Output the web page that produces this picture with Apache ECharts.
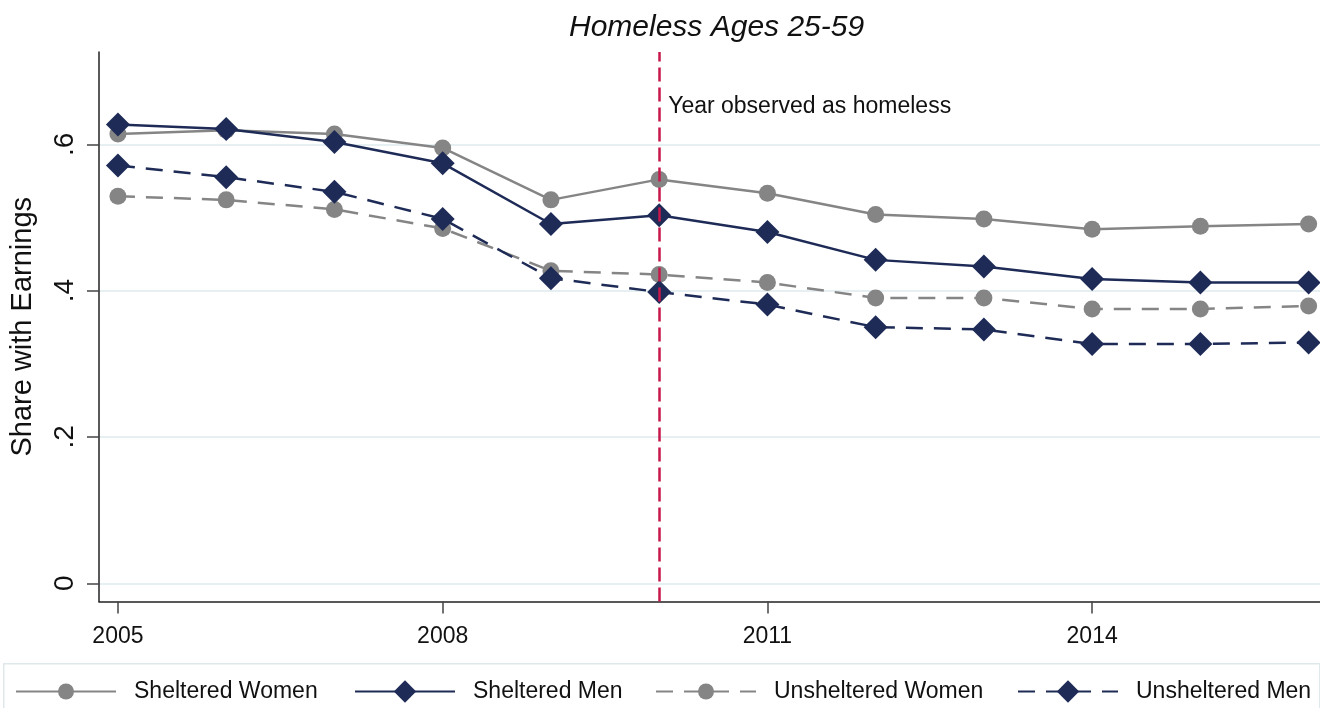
<!DOCTYPE html>
<html>
<head>
<meta charset="utf-8">
<script src="https://cdn.jsdelivr.net/npm/echarts@6/dist/echarts.min.js"></script>
<style>
html,body{margin:0;padding:0;background:#fff;}
#chart{width:1320px;height:708px;}
</style>
</head>
<body>
<div id="chart"></div>
<script>
var years = [2005, 2006, 2007, 2008, 2009, 2010, 2011, 2012, 2013, 2014, 2015, 2016];
var shelteredWomen   = [0.614, 0.619, 0.614, 0.595, 0.524, 0.552, 0.533, 0.504, 0.498, 0.484, 0.488, 0.491];
var shelteredMen     = [0.627, 0.621, 0.603, 0.574, 0.491, 0.503, 0.480, 0.442, 0.433, 0.416, 0.411, 0.411];
var unshelteredWomen = [0.529, 0.524, 0.511, 0.485, 0.427, 0.422, 0.411, 0.390, 0.390, 0.375, 0.375, 0.379];
var unshelteredMen   = [0.571, 0.555, 0.535, 0.498, 0.417, 0.398, 0.381, 0.350, 0.347, 0.327, 0.327, 0.329];
var xTicks = [2005, 2008, 2011, 2014];
var yTicks = [0, 0.2, 0.4, 0.6];
var yTickLabels = {"0": "0", "0.2": ".2", "0.4": ".4", "0.6": ".6"};
var eventYear = 2010;
var eventLabel = "Year observed as homeless";
var titleText = "Homeless Ages 25-59";
var yTitle = "Share with Earnings";
var seriesNames = ["Sheltered Women", "Sheltered Men", "Unsheltered Women", "Unsheltered Men"];

function pairs(vals){ return years.map(function(y,i){ return [y, vals[i]]; }); }

var GRAY = '#858585', NAVY = '#1e2b57', RED = '#c8174a';
var FONT = '"Liberation Sans", Arial, sans-serif';

function mk(name, vals, color, symbol, size, dashed){
  return {
    name: name, type: 'line', data: pairs(vals),
    symbol: symbol, symbolSize: size, showSymbol: true,
    itemStyle: {color: color, opacity: 1},
    lineStyle: {color: color, width: 2.5, type: dashed ? [17, 11] : 'solid'},
    emphasis: {disabled: true}, animation: false, z: 3
  };
}

var series = [
  mk(seriesNames[0], shelteredWomen, GRAY, 'circle', 17, false),
  mk(seriesNames[1], shelteredMen, NAVY, 'diamond', 24, false),
  mk(seriesNames[2], unshelteredWomen, GRAY, 'circle', 17, true),
  mk(seriesNames[3], unshelteredMen, NAVY, 'diamond', 24, true)
];
series.push({
  type: 'line', data: [], silent: true, animation: false, z: 2,
  markLine: {
    silent: true, symbol: 'none', animation: false,
    lineStyle: {color: RED, width: 2.5, type: [14, 6]},
    label: {show: false},
    data: [{xAxis: eventYear}]
  },
  markPoint: {
    silent: true, symbol: 'circle', symbolSize: 0, animation: false,
    label: {show: true, position: 'right', distance: 9, formatter: eventLabel,
      color: '#111', fontSize: 23, fontFamily: FONT},
    data: [{coord: [eventYear, 0.652]}]
  }
});

function legendFor(idx, left, h){
  return {
    data: [seriesNames[idx]], left: left, top: 675,
    itemWidth: 100, itemHeight: h, selectedMode: false,
    textStyle: {fontFamily: FONT, fontSize: 23, color: '#111', padding: [0, 0, 0, 13]}
  };
}

var chart = echarts.init(document.getElementById('chart'), null, {renderer: 'canvas'});
chart.setOption({
  animation: false,
  backgroundColor: '#fff',
  title: {text: titleText, left: 564, top: 8,
    textStyle: {fontFamily: FONT, fontSize: 30, fontStyle: 'italic', fontWeight: 'normal', color: '#111'}},
  grid: {left: 98, right: 0, top: 52, bottom: 106.5, containLabel: false},
  xAxis: {
    type: 'value', min: 2004.825, max: 2016.105,
    axisLine: {show: true, onZero: false, lineStyle: {color: '#222', width: 1.5}},
    axisTick: {show: true, length: 12, customValues: xTicks, lineStyle: {color: '#444', width: 1.5}},
    axisLabel: {show: true, customValues: xTicks, margin: 24, fontSize: 23, color: '#111', fontFamily: FONT,
      formatter: function(v){ return String(v); }},
    splitLine: {show: false}
  },
  yAxis: {
    type: 'value', min: -0.0249, max: 0.7261,
    name: yTitle, nameLocation: 'middle', nameGap: 62, nameRotate: 90,
    nameTextStyle: {fontFamily: FONT, fontSize: 29, color: '#111'},
    axisLine: {show: true, onZero: false, lineStyle: {color: '#222', width: 1.5}},
    axisTick: {show: true, length: 12, customValues: yTicks, lineStyle: {color: '#444', width: 1.5}},
    axisLabel: {show: true, customValues: yTicks, rotate: 90, margin: 20, fontSize: 28, color: '#111', fontFamily: FONT,
      formatter: function(v){ var k = String(Math.round(v*10)/10); return yTickLabels[k] !== undefined ? yTickLabels[k] : k; }},
    splitLine: {show: true, lineStyle: {color: '#e6eff1', width: 2}}
  },
  legend: [
    legendFor(0, 10, 20),
    legendFor(1, 349, 28),
    legendFor(2, 650, 20),
    legendFor(3, 1012, 28)
  ],
  graphic: [{
    type: 'rect', left: 3, top: 663, silent: true, z: -1,
    shape: {width: 1316, height: 60},
    style: {fill: '#fff', stroke: '#dfe8ea', lineWidth: 1.5}
  }],
  series: series
});
</script>
</body>
</html>
